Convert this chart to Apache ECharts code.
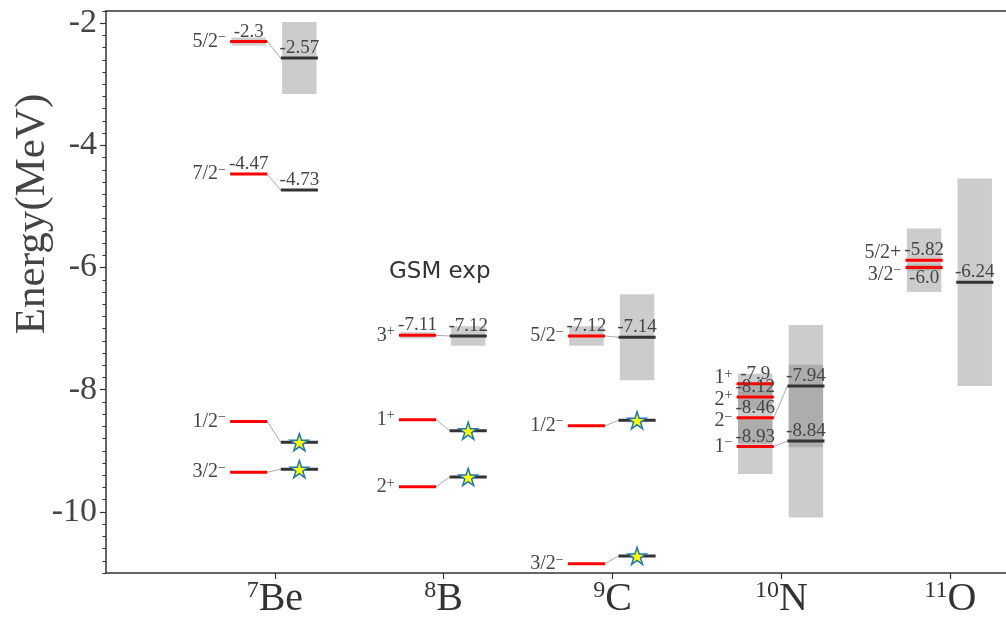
<!DOCTYPE html>
<html>
<head>
<meta charset="utf-8">
<script src="https://cdn.jsdelivr.net/npm/echarts@6/dist/echarts.min.js"></script>
<style>
    html, body {margin: 0; padding: 0; background: #fff;}
    #main {width: 1006px; height: 619px;}
</style>
</head>
<body>
<div id="main"></div>
<script>
// nuclei on the x axis (x = 1..5)
const nucleusMass = ['7', '8', '9', '10', '11'];
const nucleusName = ['Be', 'B', 'C', 'N', 'O'];
const yTickValues = [-10, -8, -6, -4, -2];

// GSM levels (red)
const gsmNucleus = [0, 0, 0, 0, 1, 1, 1, 2, 2, 2, 3, 3, 3, 3, 4, 4];
const gsmSpin = ['5/2^-', '7/2^-', '1/2^-', '3/2^-', '3^+', '1^+', '2^+', '5/2^-', '1/2^-', '3/2^-',
    '1^+', '2^+', '2^-', '1^-', '5/2+', '3/2^-'];
const gsmEnergy = [-2.3, -4.47, -8.52, -9.35, -7.11, -8.49, -9.59, -7.12, -8.59, -10.85,
    -7.9, -8.12, -8.46, -8.93, -5.88, -6.0];
const gsmHalfWidth = [0.065, 0, 0, 0, 0.05, 0, 0, 0.16, 0, 0, 0.16, 0.2, 0.42, 0.45, 0.52, 0.05];
const gsmText = ['-2.3', '-4.47', '', '', '-7.11', '', '', '-7.12', '', '', '-7.9', '-8.12', '-8.46', '-8.93', '-5.82', '-6.0'];

// experimental levels (black)
const expNucleus = [0, 0, 0, 0, 1, 1, 1, 2, 2, 2, 3, 3, 4];
const expEnergy = [-2.57, -4.73, -8.86, -9.30, -7.12, -8.67, -9.43, -7.14, -8.50, -10.72, -7.94, -8.84, -6.24];
const expHalfWidth = [0.59, 0, 0, 0, 0.16, 0, 0, 0.705, 0, 0, 1.0, 1.25, 1.7];
const expText = ['-2.57', '-4.73', '', '', '-7.12', '', '', '-7.14', '', '', '-7.94', '-8.84', '-6.24'];
const expBound = [0, 0, 1, 1, 0, 1, 1, 0, 1, 1, 0, 0, 0];

// [gsm index, exp index]
const links = [[0, 0], [1, 1], [2, 2], [3, 3], [4, 4], [5, 5], [6, 6], [7, 7], [8, 8], [9, 9], [12, 10], [13, 11]];

// layout (x offsets from the nucleus position)
const GSM_X = [-0.265, -0.045];
const EXP_X = [0.035, 0.255];
const BOX_IN = 0.008;
const STAR_X = 0.145;
const SPIN_X = -0.29;
const MIN_SEP = 0.35;
const SERIF = '"Liberation Serif", "DejaVu Serif", serif';
const STAR = 'path://M0,-1L0.2245,-0.309L0.951,-0.309L0.363,0.118L0.588,0.809L0,0.382L-0.588,0.809L-0.363,0.118L-0.951,-0.309L-0.2245,-0.309Z';

const boxData = [];
const lineData = [];
const linkData = [];
const starData = [];
const labelData = [];
const labelInfo = [];

gsmEnergy.forEach(function (e, i) {
    const c = gsmNucleus[i] + 1;
    if (gsmHalfWidth[i] > 0) {
        boxData.push([c + GSM_X[0] + BOX_IN, c + GSM_X[1] - BOX_IN, e + gsmHalfWidth[i], e - gsmHalfWidth[i]]);
    }
    lineData.push([c + GSM_X[0], c + GSM_X[1], e, 0]);
});
expEnergy.forEach(function (e, i) {
    const c = expNucleus[i] + 1;
    if (expHalfWidth[i] > 0) {
        boxData.push([c + EXP_X[0] + BOX_IN, c + EXP_X[1] - BOX_IN, e + expHalfWidth[i], e - expHalfWidth[i]]);
    }
    lineData.push([c + EXP_X[0], c + EXP_X[1], e, 1]);
    if (expBound[i]) {
        starData.push([c + STAR_X, e]);
    }
    if (expText[i]) {
        labelData.push([c + (EXP_X[0] + EXP_X[1]) / 2, e]);
        labelInfo.push({text: expText[i], kind: 'value', dy: -10});
    }
});
links.forEach(function (l) {
    const c = gsmNucleus[l[0]] + 1;
    linkData.push([c + GSM_X[1], gsmEnergy[l[0]], c + EXP_X[0], expEnergy[l[1]]]);
});

// spin labels pushed apart, value labels flipped below when crowded
const spinPos = gsmEnergy.slice();
for (let n = 0; n < nucleusName.length; n++) {
    const idx = gsmNucleus.map(function (v, i) { return v === n ? i : -1; })
        .filter(function (i) { return i >= 0; })
        .sort(function (a, b) { return gsmEnergy[b] - gsmEnergy[a]; });
    for (let it = 0; it < 40; it++) {
        for (let k = 1; k < idx.length; k++) {
            const gap = spinPos[idx[k - 1]] - spinPos[idx[k]];
            if (gap < MIN_SEP) {
                const d = (MIN_SEP - gap) / 2;
                spinPos[idx[k - 1]] += d;
                spinPos[idx[k]] -= d;
            }
        }
    }
    idx.forEach(function (i, k) {
        const c = gsmNucleus[i] + 1;
        const crowded = k > 0 && gsmEnergy[idx[k - 1]] - gsmEnergy[i] < 0.17;
        if (gsmText[i]) {
            labelData.push([c + (GSM_X[0] + GSM_X[1]) / 2, gsmEnergy[i]]);
            labelInfo.push({text: gsmText[i], kind: 'value', dy: crowded ? 10 : -10});
        }
        labelData.push([c + SPIN_X, spinPos[i]]);
        const s = gsmSpin[i];
        const p = s.indexOf('^');
        const rich = p < 0 ? '{n|' + s + '}' : '{n|' + s.slice(0, p) + '}{s|' + s.slice(p + 1).replace('-', '\u2212') + '}';
        labelInfo.push({text: rich, kind: 'spin', dy: 0});
    });
}

const minorTicks = [];
for (let k = -55; k <= -9; k++) {
    minorTicks.push(k / 5);
}

const chart = echarts.init(document.getElementById('main'));
chart.setOption({
    animation: false,
    backgroundColor: '#fff',
    grid: {left: 106, right: 0, top: 11, bottom: 43},
    xAxis: [{
        type: 'value',
        min: 0,
        max: 5.33,
        axisLine: {lineStyle: {color: '#333', width: 1.5}},
        axisTick: {customValues: [1, 2, 3, 4, 5], length: 6, lineStyle: {color: '#333', width: 1.2}},
        axisLabel: {
            customValues: [1, 2, 3, 4, 5],
            margin: 6,
            formatter: function (v) {
                return '{s|' + nucleusMass[v - 1] + '}{m|' + nucleusName[v - 1] + '}';
            },
            rich: {
                s: {fontFamily: SERIF, fontSize: 24, color: '#333', verticalAlign: 'top', lineHeight: 24},
                m: {fontFamily: SERIF, fontSize: 40, color: '#333', lineHeight: 40}
            }
        },
        splitLine: {show: false}
    }, {
        type: 'value',
        position: 'top',
        min: 0,
        max: 5.33,
        axisLine: {show: true, lineStyle: {color: '#333', width: 1.5}},
        axisTick: {show: false},
        axisLabel: {show: false},
        splitLine: {show: false}
    }],
    yAxis: [{
        type: 'value',
        min: -11,
        max: -1.8,
        axisLine: {show: true, lineStyle: {color: '#333', width: 1.5}},
        axisTick: {show: true, customValues: yTickValues, length: 6, lineStyle: {color: '#333', width: 1.2}},
        axisLabel: {customValues: yTickValues, margin: 9, fontFamily: SERIF, fontSize: 34, color: '#444'},
        splitLine: {show: false}
    }, {
        type: 'value',
        position: 'left',
        min: -11,
        max: -1.8,
        axisLine: {show: false},
        axisTick: {show: true, customValues: minorTicks, length: 3.5, lineStyle: {color: '#333', width: 1}},
        axisLabel: {show: false},
        splitLine: {show: false}
    }],
    graphic: [{
        type: 'text',
        x: 33,
        y: 214,
        rotation: Math.PI / 2,
        style: {text: 'Energy(MeV)', fontFamily: SERIF, fontSize: 43, fill: '#444', align: 'center', verticalAlign: 'middle'}
    }, {
        type: 'text',
        x: 389,
        y: 272,
        style: {text: 'GSM exp', fontFamily: '"DejaVu Sans", sans-serif', fontSize: 23, fill: '#333', align: 'left', verticalAlign: 'middle'}
    }],
    series: [{
        type: 'custom',
        data: boxData,
        silent: true,
        renderItem: function (params, api) {
            const p0 = api.coord([api.value(0), api.value(2)]);
            const p1 = api.coord([api.value(1), api.value(3)]);
            return {
                type: 'rect',
                shape: {x: p0[0], y: p0[1], width: p1[0] - p0[0], height: p1[1] - p0[1]},
                style: {fill: 'rgba(128,128,128,0.4)'}
            };
        }
    }, {
        type: 'custom',
        data: linkData,
        silent: true,
        renderItem: function (params, api) {
            const p0 = api.coord([api.value(0), api.value(1)]);
            const p1 = api.coord([api.value(2), api.value(3)]);
            return {
                type: 'line',
                shape: {x1: p0[0], y1: p0[1], x2: p1[0], y2: p1[1]},
                style: {stroke: '#aaa', lineWidth: 1}
            };
        }
    }, {
        type: 'custom',
        data: lineData,
        silent: true,
        renderItem: function (params, api) {
            const p0 = api.coord([api.value(0), api.value(2)]);
            const p1 = api.coord([api.value(1), api.value(2)]);
            return {
                type: 'line',
                shape: {x1: p0[0], y1: p0[1], x2: p1[0], y2: p1[1]},
                style: {stroke: api.value(3) ? '#333' : '#ff0000', lineWidth: 3}
            };
        }
    }, {
        type: 'scatter',
        data: starData,
        symbol: STAR,
        symbolSize: 18,
        symbolKeepAspect: true,
        itemStyle: {color: '#ffff00', borderColor: '#1f77b4', borderWidth: 1.5, opacity: 1},
        silent: true
    }, {
        type: 'custom',
        data: labelData,
        silent: true,
        renderItem: function (params, api) {
            const info = labelInfo[params.dataIndex];
            const p = api.coord([api.value(0), api.value(1)]);
            if (info.kind === 'value') {
                return {
                    type: 'text',
                    x: p[0],
                    y: p[1] + info.dy,
                    style: {text: info.text, fontFamily: SERIF, fontSize: 19, fill: '#444', align: 'center', verticalAlign: 'middle'}
                };
            }
            return {
                type: 'text',
                x: p[0],
                y: p[1] + info.dy,
                style: {
                    text: info.text,
                    align: 'right',
                    verticalAlign: 'middle',
                    rich: {
                        n: {fontFamily: SERIF, fontSize: 20, fill: '#444', lineHeight: 22},
                        s: {fontFamily: SERIF, fontSize: 14, fill: '#444', verticalAlign: 'top', lineHeight: 12}
                    }
                }
            };
        }
    }]
});
</script>
</body>
</html>
